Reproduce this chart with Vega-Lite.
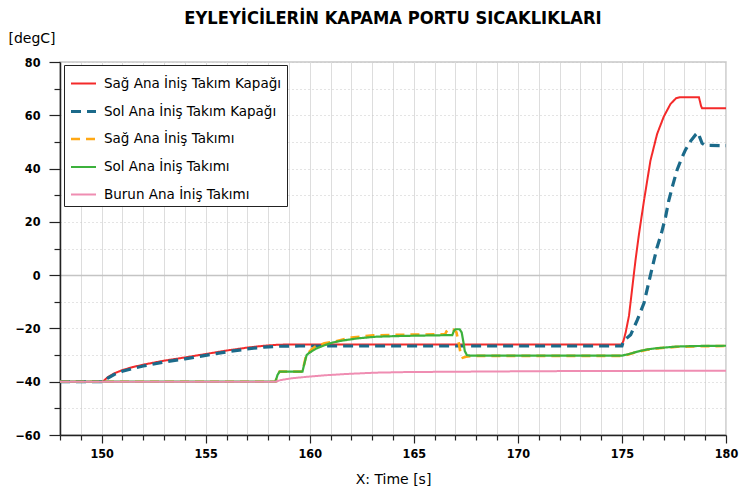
{
  "$schema": "https://vega.github.io/schema/vega-lite/v6.json",
  "width": 666,
  "height": 373,
  "autosize": {"type": "none"},
  "padding": {"left": 60, "top": 62, "right": 13, "bottom": 57},
  "background": "white",
  "title": {
    "text": "EYLEYİCİLERİN KAPAMA PORTU SICAKLIKLARI",
    "font": "DejaVu Sans Condensed",
    "fontSize": 18.2,
    "fontWeight": "bold",
    "color": "#000000",
    "anchor": "middle",
    "offset": 3
  },
  "data": {
    "values": [
      {"t": 148, "v": -40, "s": "Sağ Ana İniş Takım Kapağı"},
      {"t": 150.05, "v": -40, "s": "Sağ Ana İniş Takım Kapağı"},
      {"t": 150.3, "v": -38.3, "s": "Sağ Ana İniş Takım Kapağı"},
      {"t": 150.6, "v": -36.9, "s": "Sağ Ana İniş Takım Kapağı"},
      {"t": 151.0, "v": -35.6, "s": "Sağ Ana İniş Takım Kapağı"},
      {"t": 151.5, "v": -34.5, "s": "Sağ Ana İniş Takım Kapağı"},
      {"t": 152.0, "v": -33.6, "s": "Sağ Ana İniş Takım Kapağı"},
      {"t": 153.0, "v": -32.1, "s": "Sağ Ana İniş Takım Kapağı"},
      {"t": 154.0, "v": -30.9, "s": "Sağ Ana İniş Takım Kapağı"},
      {"t": 155.0, "v": -29.6, "s": "Sağ Ana İniş Takım Kapağı"},
      {"t": 156.0, "v": -28.3, "s": "Sağ Ana İniş Takım Kapağı"},
      {"t": 157.0, "v": -27.2, "s": "Sağ Ana İniş Takım Kapağı"},
      {"t": 157.8, "v": -26.5, "s": "Sağ Ana İniş Takım Kapağı"},
      {"t": 158.5, "v": -26.1, "s": "Sağ Ana İniş Takım Kapağı"},
      {"t": 159.5, "v": -26.0, "s": "Sağ Ana İniş Takım Kapağı"},
      {"t": 175.0, "v": -26.0, "s": "Sağ Ana İniş Takım Kapağı"},
      {"t": 175.08, "v": -24.5, "s": "Sağ Ana İniş Takım Kapağı"},
      {"t": 175.18, "v": -21.5, "s": "Sağ Ana İniş Takım Kapağı"},
      {"t": 175.34, "v": -15.2, "s": "Sağ Ana İniş Takım Kapağı"},
      {"t": 175.5, "v": -4.5, "s": "Sağ Ana İniş Takım Kapağı"},
      {"t": 175.65, "v": 5.5, "s": "Sağ Ana İniş Takım Kapağı"},
      {"t": 175.82, "v": 15.5, "s": "Sağ Ana İniş Takım Kapağı"},
      {"t": 176.06, "v": 28, "s": "Sağ Ana İniş Takım Kapağı"},
      {"t": 176.37, "v": 43, "s": "Sağ Ana İniş Takım Kapağı"},
      {"t": 176.69, "v": 53, "s": "Sağ Ana İniş Takım Kapağı"},
      {"t": 177.01, "v": 59.5, "s": "Sağ Ana İniş Takım Kapağı"},
      {"t": 177.33, "v": 64.2, "s": "Sağ Ana İniş Takım Kapağı"},
      {"t": 177.6, "v": 66.4, "s": "Sağ Ana İniş Takım Kapağı"},
      {"t": 177.8, "v": 66.8, "s": "Sağ Ana İniş Takım Kapağı"},
      {"t": 178.7, "v": 66.8, "s": "Sağ Ana İniş Takım Kapağı"},
      {"t": 178.8, "v": 63.5, "s": "Sağ Ana İniş Takım Kapağı"},
      {"t": 178.85, "v": 62.6, "s": "Sağ Ana İniş Takım Kapağı"},
      {"t": 180, "v": 62.6, "s": "Sağ Ana İniş Takım Kapağı"},

      {"t": 148, "v": -40, "s": "Sol Ana İniş Takım Kapağı"},
      {"t": 150.05, "v": -40, "s": "Sol Ana İniş Takım Kapağı"},
      {"t": 150.3, "v": -38.6, "s": "Sol Ana İniş Takım Kapağı"},
      {"t": 150.6, "v": -37.3, "s": "Sol Ana İniş Takım Kapağı"},
      {"t": 151.0, "v": -36.1, "s": "Sol Ana İniş Takım Kapağı"},
      {"t": 151.5, "v": -35.0, "s": "Sol Ana İniş Takım Kapağı"},
      {"t": 152.0, "v": -34.1, "s": "Sol Ana İniş Takım Kapağı"},
      {"t": 153.0, "v": -32.6, "s": "Sol Ana İniş Takım Kapağı"},
      {"t": 154.0, "v": -31.4, "s": "Sol Ana İniş Takım Kapağı"},
      {"t": 155.0, "v": -30.1, "s": "Sol Ana İniş Takım Kapağı"},
      {"t": 156.0, "v": -28.8, "s": "Sol Ana İniş Takım Kapağı"},
      {"t": 157.0, "v": -27.7, "s": "Sol Ana İniş Takım Kapağı"},
      {"t": 157.8, "v": -27.0, "s": "Sol Ana İniş Takım Kapağı"},
      {"t": 158.5, "v": -26.7, "s": "Sol Ana İniş Takım Kapağı"},
      {"t": 159.5, "v": -26.6, "s": "Sol Ana İniş Takım Kapağı"},
      {"t": 175.0, "v": -26.6, "s": "Sol Ana İniş Takım Kapağı"},
      {"t": 175.06, "v": -25.0, "s": "Sol Ana İniş Takım Kapağı"},
      {"t": 175.15, "v": -24.2, "s": "Sol Ana İniş Takım Kapağı"},
      {"t": 175.42, "v": -22.4, "s": "Sol Ana İniş Takım Kapağı"},
      {"t": 175.74, "v": -16.8, "s": "Sol Ana İniş Takım Kapağı"},
      {"t": 176.06, "v": -10.5, "s": "Sol Ana İniş Takım Kapağı"},
      {"t": 176.37, "v": 0, "s": "Sol Ana İniş Takım Kapağı"},
      {"t": 176.69, "v": 10.5, "s": "Sol Ana İniş Takım Kapağı"},
      {"t": 176.9, "v": 15.8, "s": "Sol Ana İniş Takım Kapağı"},
      {"t": 177.1, "v": 22, "s": "Sol Ana İniş Takım Kapağı"},
      {"t": 177.25, "v": 28, "s": "Sol Ana İniş Takım Kapağı"},
      {"t": 177.45, "v": 34, "s": "Sol Ana İniş Takım Kapağı"},
      {"t": 177.65, "v": 39.5, "s": "Sol Ana İniş Takım Kapağı"},
      {"t": 177.85, "v": 43.5, "s": "Sol Ana İniş Takım Kapağı"},
      {"t": 178.05, "v": 47, "s": "Sol Ana İniş Takım Kapağı"},
      {"t": 178.3, "v": 50.3, "s": "Sol Ana İniş Takım Kapağı"},
      {"t": 178.55, "v": 52.8, "s": "Sol Ana İniş Takım Kapağı"},
      {"t": 178.65, "v": 53.5, "s": "Sol Ana İniş Takım Kapağı"},
      {"t": 178.75, "v": 51.5, "s": "Sol Ana İniş Takım Kapağı"},
      {"t": 178.85, "v": 49.5, "s": "Sol Ana İniş Takım Kapağı"},
      {"t": 179.0, "v": 48.7, "s": "Sol Ana İniş Takım Kapağı"},
      {"t": 180, "v": 48.6, "s": "Sol Ana İniş Takım Kapağı"},

      {"t": 148, "v": -40, "s": "Sağ Ana İniş Takımı"},
      {"t": 158.35, "v": -40, "s": "Sağ Ana İniş Takımı"},
      {"t": 158.45, "v": -37.5, "s": "Sağ Ana İniş Takımı"},
      {"t": 158.55, "v": -36.2, "s": "Sağ Ana İniş Takımı"},
      {"t": 159.65, "v": -36.2, "s": "Sağ Ana İniş Takımı"},
      {"t": 159.8, "v": -31, "s": "Sağ Ana İniş Takımı"},
      {"t": 159.95, "v": -29, "s": "Sağ Ana İniş Takımı"},
      {"t": 160.1, "v": -27.8, "s": "Sağ Ana İniş Takımı"},
      {"t": 160.26, "v": -26.8, "s": "Sağ Ana İniş Takımı"},
      {"t": 160.7, "v": -25.6, "s": "Sağ Ana İniş Takımı"},
      {"t": 161.22, "v": -24.9, "s": "Sağ Ana İniş Takımı"},
      {"t": 162.0, "v": -23.4, "s": "Sağ Ana İniş Takımı"},
      {"t": 163.05, "v": -22.6, "s": "Sağ Ana İniş Takımı"},
      {"t": 165.0, "v": -22.3, "s": "Sağ Ana İniş Takımı"},
      {"t": 166.5, "v": -22.2, "s": "Sağ Ana İniş Takımı"},
      {"t": 166.58, "v": -21, "s": "Sağ Ana İniş Takımı"},
      {"t": 166.65, "v": -20.4, "s": "Sağ Ana İniş Takımı"},
      {"t": 166.8, "v": -20.3, "s": "Sağ Ana İniş Takımı"},
      {"t": 166.95, "v": -20.6, "s": "Sağ Ana İniş Takımı"},
      {"t": 167.05, "v": -21.5, "s": "Sağ Ana İniş Takımı"},
      {"t": 167.15, "v": -25, "s": "Sağ Ana İniş Takımı"},
      {"t": 167.25, "v": -29.5, "s": "Sağ Ana İniş Takımı"},
      {"t": 167.35, "v": -31, "s": "Sağ Ana İniş Takımı"},
      {"t": 167.5, "v": -30.6, "s": "Sağ Ana İniş Takımı"},
      {"t": 168.0, "v": -30.3, "s": "Sağ Ana İniş Takımı"},
      {"t": 175.0, "v": -30.3, "s": "Sağ Ana İniş Takımı"},
      {"t": 175.3, "v": -29.8, "s": "Sağ Ana İniş Takımı"},
      {"t": 175.74, "v": -28.8, "s": "Sağ Ana İniş Takımı"},
      {"t": 176.2, "v": -28.0, "s": "Sağ Ana İniş Takımı"},
      {"t": 176.69, "v": -27.5, "s": "Sağ Ana İniş Takımı"},
      {"t": 177.65, "v": -26.9, "s": "Sağ Ana İniş Takımı"},
      {"t": 178.6, "v": -26.7, "s": "Sağ Ana İniş Takımı"},
      {"t": 180, "v": -26.6, "s": "Sağ Ana İniş Takımı"},

      {"t": 148, "v": -40, "s": "Sol Ana İniş Takımı"},
      {"t": 158.35, "v": -40, "s": "Sol Ana İniş Takımı"},
      {"t": 158.45, "v": -37.5, "s": "Sol Ana İniş Takımı"},
      {"t": 158.55, "v": -36.2, "s": "Sol Ana İniş Takımı"},
      {"t": 159.65, "v": -36.2, "s": "Sol Ana İniş Takımı"},
      {"t": 159.75, "v": -33, "s": "Sol Ana İniş Takımı"},
      {"t": 159.85, "v": -30, "s": "Sol Ana İniş Takımı"},
      {"t": 159.95, "v": -29.3, "s": "Sol Ana İniş Takımı"},
      {"t": 160.3, "v": -27.6, "s": "Sol Ana İniş Takımı"},
      {"t": 160.74, "v": -26.2, "s": "Sol Ana İniş Takımı"},
      {"t": 161.1, "v": -25.3, "s": "Sol Ana İniş Takımı"},
      {"t": 161.53, "v": -24.6, "s": "Sol Ana İniş Takımı"},
      {"t": 162.33, "v": -23.7, "s": "Sol Ana İniş Takımı"},
      {"t": 163.2, "v": -23.1, "s": "Sol Ana İniş Takımı"},
      {"t": 164.5, "v": -22.8, "s": "Sol Ana İniş Takımı"},
      {"t": 166.0, "v": -22.6, "s": "Sol Ana İniş Takımı"},
      {"t": 166.85, "v": -22.5, "s": "Sol Ana İniş Takımı"},
      {"t": 166.92, "v": -21, "s": "Sol Ana İniş Takımı"},
      {"t": 167.0, "v": -20.3, "s": "Sol Ana İniş Takımı"},
      {"t": 167.2, "v": -20.3, "s": "Sol Ana İniş Takımı"},
      {"t": 167.3, "v": -21.5, "s": "Sol Ana İniş Takımı"},
      {"t": 167.38, "v": -25, "s": "Sol Ana İniş Takımı"},
      {"t": 167.45, "v": -28.5, "s": "Sol Ana İniş Takımı"},
      {"t": 167.55, "v": -30, "s": "Sol Ana İniş Takımı"},
      {"t": 167.7, "v": -30.2, "s": "Sol Ana İniş Takımı"},
      {"t": 175.0, "v": -30.2, "s": "Sol Ana İniş Takımı"},
      {"t": 175.3, "v": -29.7, "s": "Sol Ana İniş Takımı"},
      {"t": 175.74, "v": -28.7, "s": "Sol Ana İniş Takımı"},
      {"t": 176.2, "v": -27.9, "s": "Sol Ana İniş Takımı"},
      {"t": 176.69, "v": -27.4, "s": "Sol Ana İniş Takımı"},
      {"t": 177.65, "v": -26.8, "s": "Sol Ana İniş Takımı"},
      {"t": 178.6, "v": -26.6, "s": "Sol Ana İniş Takımı"},
      {"t": 180, "v": -26.5, "s": "Sol Ana İniş Takımı"},

      {"t": 148, "v": -40, "s": "Burun Ana İniş Takımı"},
      {"t": 158.35, "v": -40, "s": "Burun Ana İniş Takımı"},
      {"t": 158.6, "v": -39.4, "s": "Burun Ana İniş Takımı"},
      {"t": 159.14, "v": -38.7, "s": "Burun Ana İniş Takımı"},
      {"t": 159.94, "v": -38.1, "s": "Burun Ana İniş Takımı"},
      {"t": 160.7, "v": -37.6, "s": "Burun Ana İniş Takımı"},
      {"t": 161.53, "v": -37.2, "s": "Burun Ana İniş Takımı"},
      {"t": 162.3, "v": -36.9, "s": "Burun Ana İniş Takımı"},
      {"t": 163.2, "v": -36.6, "s": "Burun Ana İniş Takımı"},
      {"t": 164.5, "v": -36.4, "s": "Burun Ana İniş Takımı"},
      {"t": 166.0, "v": -36.3, "s": "Burun Ana İniş Takımı"},
      {"t": 168.0, "v": -36.2, "s": "Burun Ana İniş Takımı"},
      {"t": 170.0, "v": -36.1, "s": "Burun Ana İniş Takımı"},
      {"t": 172.5, "v": -36.0, "s": "Burun Ana İniş Takımı"},
      {"t": 175.0, "v": -35.95, "s": "Burun Ana İniş Takımı"},
      {"t": 180, "v": -35.85, "s": "Burun Ana İniş Takımı"}
    ]
  },
  "mark": {"type": "line", "strokeCap": "butt", "interpolate": "linear"},
  "encoding": {
    "x": {
      "field": "t",
      "type": "quantitative",
      "scale": {"domain": [148, 180], "nice": false, "zero": false},
      "axis": {
        "title": "X: Time [s]",
        "values": [148, 149, 150, 151, 152, 153, 154, 155, 156, 157, 158, 159, 160, 161, 162, 163, 164, 165, 166, 167, 168, 169, 170, 171, 172, 173, 174, 175, 176, 177, 178, 179, 180],
        "format": "d",
        "labelExpr": "datum.value % 5 === 0 ? datum.label : ''",
        "labelOverlap": false,
        "labelFlush": false,
        "tickSize": {"condition": {"test": "datum.value % 5 === 0", "value": 8}, "value": 5},
        "labelPadding": 4,
        "titlePadding": 13
      }
    },
    "y": {
      "field": "v",
      "type": "quantitative",
      "scale": {"domain": [-60, 80], "nice": false, "zero": false},
      "axis": {
        "title": "[degC]",
        "values": [-60, -50, -40, -30, -20, -10, 0, 10, 20, 30, 40, 50, 60, 70, 80],
        "labelExpr": "datum.value % 20 === 0 ? datum.label : ''",
        "labelOverlap": false,
        "labelFlush": false,
        "tickSize": {"condition": {"test": "datum.value % 20 === 0", "value": 11}, "value": 6},
        "labelPadding": 9,
        "gridDash": {"condition": {"test": "datum.value === 0", "value": []}, "value": [1, 3]},
        "gridColor": {"condition": {"test": "datum.value === 0", "value": "#c4c4c4"}, "value": "#c8c8c8"},
        "gridWidth": {"condition": {"test": "datum.value === 0", "value": 1.6}, "value": 1},
        "titleAngle": 0,
        "titleAlign": "left",
        "titleBaseline": "middle",
        "titleX": -52,
        "titleY": -24
      }
    },
    "color": {
      "field": "s",
      "type": "nominal",
      "scale": {
        "domain": ["Sağ Ana İniş Takım Kapağı", "Sol Ana İniş Takım Kapağı", "Sağ Ana İniş Takımı", "Sol Ana İniş Takımı", "Burun Ana İniş Takımı"],
        "range": ["#f42a2a", "#1b6a8a", "#ffa814", "#3cb13c", "#ef8db2"]
      },
      "legend": {"title": null}
    },
    "strokeDash": {
      "field": "s",
      "type": "nominal",
      "scale": {
        "domain": ["Sağ Ana İniş Takım Kapağı", "Sol Ana İniş Takım Kapağı", "Sağ Ana İniş Takımı", "Sol Ana İniş Takımı", "Burun Ana İniş Takımı"],
        "range": [[1, 0], [10, 6], [9, 6], [1, 0], [1, 0]]
      },
      "legend": {"title": null}
    },
    "strokeWidth": {
      "field": "s",
      "type": "nominal",
      "scale": {
        "type": "ordinal",
        "domain": ["Sağ Ana İniş Takım Kapağı", "Sol Ana İniş Takım Kapağı", "Sağ Ana İniş Takımı", "Sol Ana İniş Takımı", "Burun Ana İniş Takımı"],
        "range": [2, 3.2, 2.6, 2.2, 2]
      },
      "legend": {"title": null}
    }
  },
  "config": {
    "view": {"stroke": "#c8c8c8", "strokeWidth": 1.5},
    "axis": {
      "domainColor": "#222222",
      "domainWidth": 1.5,
      "tickColor": "#222222",
      "tickWidth": 1.2,
      "grid": true,
      "labelFont": "DejaVu Sans Condensed",
      "labelFontWeight": "bold",
      "labelFontSize": 12.5,
      "labelColor": "#000000",
      "titleFont": "DejaVu Sans",
      "titleFontWeight": "normal",
      "titleFontSize": 14,
      "titleColor": "#000000"
    },
    "legend": {
      "orient": "none",
      "legendX": 4,
      "legendY": 3,
      "strokeColor": "#222222",
      "fillColor": "#ffffff",
      "padding": 5,
      "cornerRadius": 0,
      "symbolType": "stroke",
      "symbolSize": 625,
      "rowPadding": 7,
      "labelFont": "DejaVu Sans",
      "labelFontSize": 13.5,
      "labelColor": "#000000",
      "labelOffset": 6,
      "labelLimit": 400
    }
  }
}
